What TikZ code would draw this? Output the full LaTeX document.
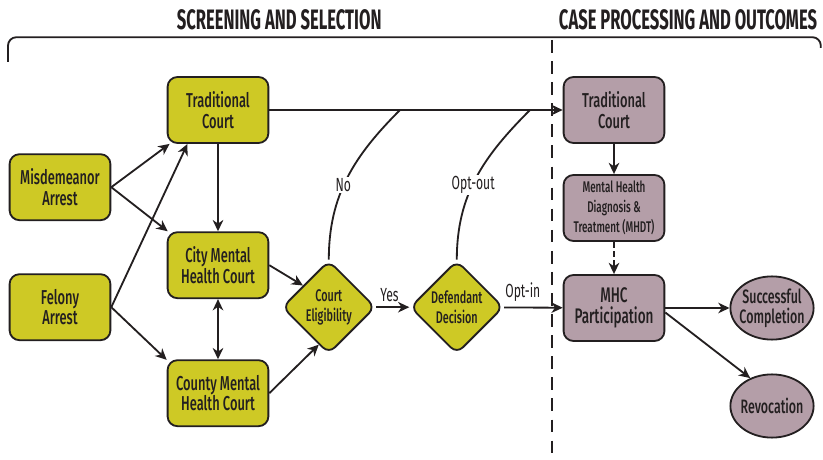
\documentclass[tikz,border=0pt]{standalone}
\usepackage{fontspec}
\setmainfont{Fira Sans}[FakeStretch=0.64]
\newfontfamily\boxfont{Fira Sans Medium}[FakeStretch=0.64]
\newfontfamily\headfont{Fira Sans}[FakeStretch=0.59]
\usetikzlibrary{arrows.meta,shapes.geometric}
\definecolor{courtyellow}{HTML}{CEC925}
\definecolor{casemauve}{HTML}{B49EA8}
\definecolor{ink}{HTML}{231F20}

\begin{document}
\begin{tikzpicture}[line width=1.3pt,color=ink,
  >={Stealth[length=8pt,width=7.5pt,inset=2.5pt]},
  courtbox/.style={draw=ink,rounded corners=7pt,align=center,minimum width=2.52cm,minimum height=1.65cm,inner sep=2pt,font=\boxfont\fontsize{14.3}{14.5}\selectfont},
  screenbox/.style={courtbox,fill=courtyellow},
  casebox/.style={courtbox,fill=casemauve},
  choice/.style={diamond,draw=ink,fill=courtyellow,rounded corners=6pt,aspect=1,minimum width=2.33cm,minimum height=2.33cm,inner sep=-2pt,align=center,font=\boxfont\fontsize{12}{14.5}\selectfont},
  outcome/.style={ellipse,draw=ink,fill=casemauve,minimum width=2.08cm,minimum height=1.58cm,inner xsep=-6pt,inner ysep=0pt,align=center,font=\boxfont\fontsize{13.8}{14.5}\selectfont},
  edgelabel/.style={font=\fontsize{13.5}{14}\selectfont,fill=white,inner sep=1pt},
  phase/.style={font=\headfont\bfseries\fontsize{20}{22}\selectfont}]
\useasboundingbox (0,0) rectangle (20.575,-11.5);

\node[phase] (screening) at (6.98,-0.5) {SCREENING AND SELECTION};
\node[phase] (processing) at (17.2,-0.5) {CASE PROCESSING AND OUTCOMES};
\draw[rounded corners=6pt] (0.2,-1.55) -- (0.2,-0.93) -- (20.52,-0.93) -- (20.52,-1.2);
\draw[dash pattern=on 9pt off 6pt] (13.8,-1.0) -- (13.8,-11.5);

\node[screenbox] (tradL) at (5.45,-2.75) {Traditional\\Court};
\node[screenbox] (misd) at (1.5,-4.68) {Misdemeanor\\Arrest};
\node[screenbox] (felony) at (1.5,-7.68) {Felony\\Arrest};
\node[screenbox] (city) at (5.45,-6.63) {City Mental\\Health Court};
\node[screenbox] (county) at (5.45,-9.83) {County Mental\\Health Court};
\node[choice] (elig) at (8.22,-7.68) {Court\\Eligibility};
\node[choice] (decis) at (11.42,-7.68) {Defendant\\Decision};
\node[casebox] (tradR) at (15.35,-2.75) {Traditional\\Court};
\node[casebox,font=\boxfont\fontsize{11}{14}\selectfont] (mhdt) at (15.35,-5.2) {Mental Health\\Diagnosis \&\\Treatment (MHDT)};
\node[casebox,font=\boxfont\fontsize{15}{14.5}\selectfont] (mhc) at (15.35,-7.7) {MHC\\Participation};
\node[outcome] (success) at (19.3,-7.7) {Successful\\Completion};
\node[outcome] (revoc) at (19.3,-10.15) {Revocation};

\coordinate (noEnd) at (10,-2.75);
\coordinate (optEnd) at (13.25,-2.75);

\draw[->] (misd.east) -- (tradL.215);
\draw[->] (misd.east) -- (city.146);
\draw[->] (felony.east) -- (tradL.228);
\draw[->] (felony.east) -- (county.147);
\draw[->] (tradL) -- (city);
\draw[<->] (city) -- (county);
\draw[->] (city.east) -- (elig.140);
\draw[->] (county.east) -- (elig.255);
\draw[->] (elig) -- (decis) node[pos=0.4,above,font=\fontsize{13.5}{14}\selectfont] (yes) {Yes};
\draw[->] (decis) -- (mhc) node[pos=0.32,above,font=\fontsize{13.5}{14}\selectfont] (optin) {Opt-in};
\draw[->] (tradL) -- (tradR);
\draw (elig.north) to[out=90,in=-135] (noEnd);
\draw (decis.north) to[out=90,in=-135] (optEnd);
\node[edgelabel] (no) at (8.58,-4.62) {No};
\node[edgelabel] (optout) at (11.83,-4.62) {Opt-out};
\draw[->] (tradR) -- (mhdt);
\draw[->,dash pattern=on 4pt off 2.5pt] (mhdt) -- (mhc);
\draw[->] (mhc) -- (success);
\draw[->] (mhc.-5) -- (revoc.128);
\end{tikzpicture}
\end{document}
